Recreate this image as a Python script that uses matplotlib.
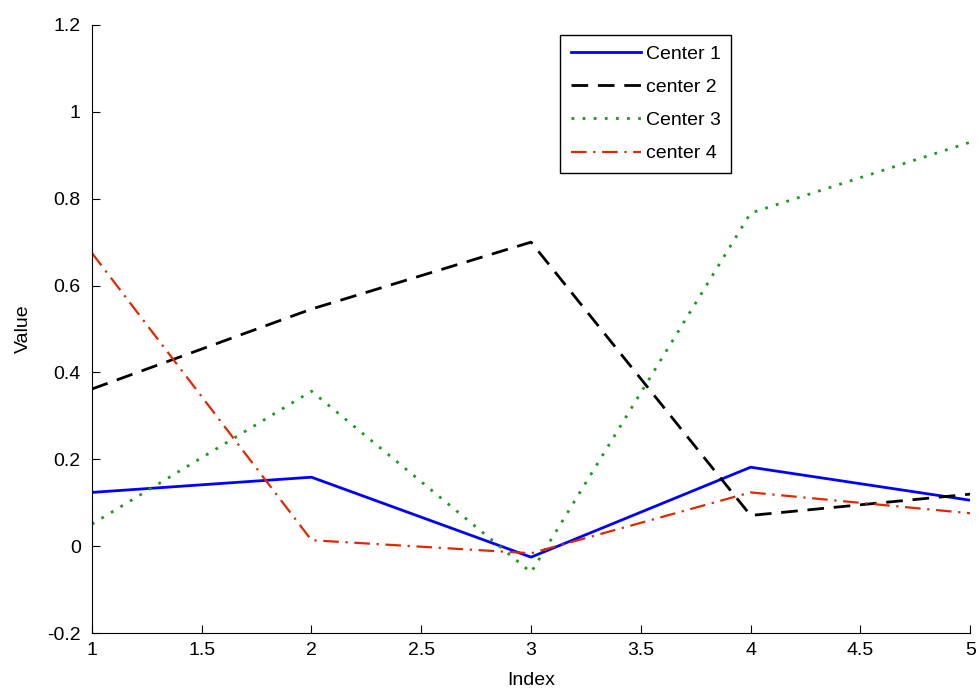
import numpy as np
import matplotlib
matplotlib.use('Agg')
import matplotlib.pyplot as plt

font_size = 14
plt.rcParams.update({
    'font.family': ['Liberation Sans', 'DejaVu Sans'],
    'font.size': font_size,
    'xtick.direction': 'in',
    'ytick.direction': 'in',
    'xtick.major.size': 6,
    'ytick.major.size': 6,
    'xtick.major.pad': 6,
    'ytick.major.pad': 8,
})

index = [1, 2, 3, 4, 5]
center1 = [0.124, 0.159, -0.025, 0.182, 0.106]
center2 = [0.362, 0.546, 0.700, 0.071, 0.120]
center3 = [0.051, 0.357, -0.060, 0.767, 0.930]
center4 = [0.675, 0.014, -0.016, 0.124, 0.076]
labels = ['Center 1', 'center 2', 'Center 3', 'center 4']

fig = plt.figure(figsize=(9.78, 6.92), dpi=100)
ax = fig.add_axes([0.094, 0.085, 0.898, 0.879])

ax.plot(index, center1, color='#0000ff', lw=2, ls='-', label=labels[0])
ax.plot(index, center2, color='black', lw=2, ls=(0, (6, 3.5)), label=labels[1])
ax.plot(index, center3, color='#1a9a1a', lw=2, ls=(0, (1, 3)), label=labels[2])
ax.plot(index, center4, color='#e02800', lw=1.6, ls=(0, (7, 3, 1, 3)), label=labels[3])

ax.set_xlim(1, 5)
ax.set_ylim(-0.2, 1.2)
ax.set_xticks(np.arange(1, 5.01, 0.5))
ax.set_xticklabels(['1', '1.5', '2', '2.5', '3', '3.5', '4', '4.5', '5'])
ax.set_yticks(np.arange(-0.2, 1.21, 0.2))
ax.set_yticklabels(['-0.2', '0', '0.2', '0.4', '0.6', '0.8', '1', '1.2'])
ax.spines['top'].set_visible(False)
ax.spines['right'].set_visible(False)
ax.set_xlabel('Index', labelpad=10)
ax.set_ylabel('Value', labelpad=11)

leg = ax.legend(loc='upper left', bbox_to_anchor=(0.533, 0.984), fancybox=False,
                edgecolor='black', framealpha=1, handlelength=3.6, handletextpad=0.25,
                borderpad=0.55, labelspacing=0.8, borderaxespad=0)
leg.get_frame().set_linewidth(1)

plt.savefig('out.png', dpi=100)
